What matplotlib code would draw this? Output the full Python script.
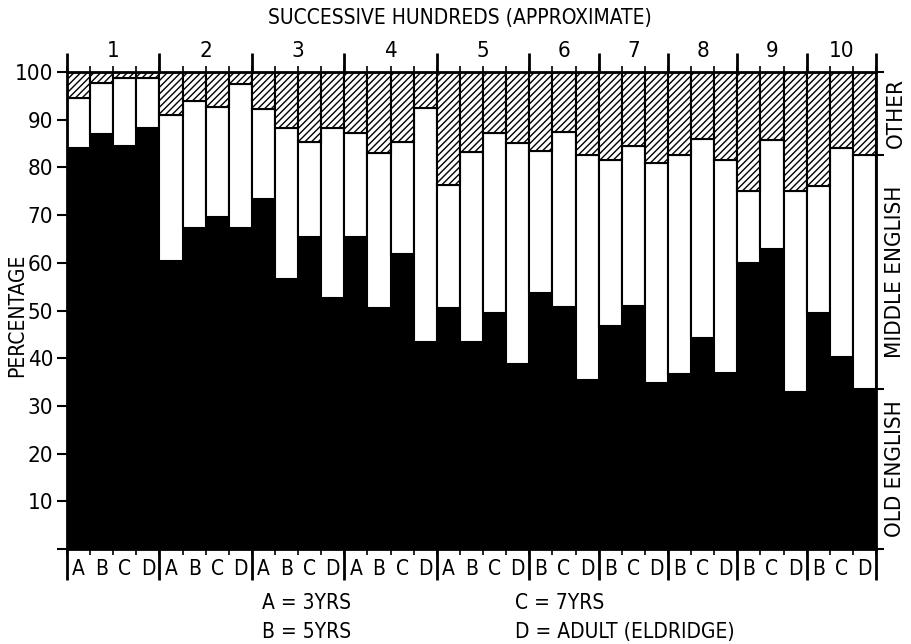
# -*- encoding: utf-8 -*-

import numpy as np
import matplotlib
matplotlib.use('Agg')
import matplotlib.pyplot as plt
import matplotlib.transforms as mtransforms

FONT_SIZE = 15
LINE_WIDTH = 1.5
plt.rcParams['font.family'] = ['DejaVu Sans']
plt.rcParams['font.stretch'] = 'condensed'
plt.rcParams['hatch.linewidth'] = 1.0

groups = ['1', '2', '3', '4', '5', '6', '7', '8', '9', '10']
group_sizes = [4, 4, 4, 4, 4, 3, 3, 3, 3, 3]
bar_labels = ['A', 'B', 'C', 'D', 'A', 'B', 'C', 'D', 'A', 'B', 'C', 'D',
              'A', 'B', 'C', 'D', 'A', 'B', 'C', 'D',
              'B', 'C', 'D', 'B', 'C', 'D', 'B', 'C', 'D', 'B', 'C', 'D', 'B', 'C', 'D']
old_english = [84.0, 87.1, 84.5, 88.3, 60.3, 67.3, 69.5, 67.4, 73.3, 56.5, 65.5, 52.7,
               65.4, 50.5, 61.8, 43.5, 50.6, 43.5, 49.5, 38.8,
               53.6, 50.8, 35.4, 46.7, 50.9, 34.7, 36.7, 44.2, 37.0, 60.0, 62.8, 33.0,
               49.4, 40.2, 33.5]
middle_english = [10.6, 10.5, 14.3, 10.5, 30.7, 26.6, 23.2, 30.1, 18.9, 31.7, 19.9, 35.6,
                  21.9, 32.6, 23.6, 48.9, 25.7, 39.8, 37.8, 46.4,
                  29.8, 36.7, 47.2, 34.9, 33.6, 46.2, 45.9, 41.7, 44.6, 15.1, 22.9, 42.1,
                  26.6, 43.8, 49.2]
y_ticks = [10, 20, 30, 40, 50, 60, 70, 80, 90, 100]
legend_left = ['A = 3YRS', 'B = 5YRS']
legend_right = ['C = 7YRS', 'D = ADULT (ELDRIDGE)']
side_labels = ['OTHER', 'MIDDLE ENGLISH', 'OLD ENGLISH']


def plot_vocabulary():
    old = np.array(old_english)
    mid = np.array(middle_english)
    other = 100 - old - mid
    n = len(old)
    x = np.arange(n) + 0.5

    fig = plt.figure(figsize=(9.12, 6.44), dpi=100)
    ax = fig.add_axes([0.0735, 0.1475, 0.887, 0.7407])
    ax.bar(x, old, width=1, color='black', edgecolor='black', linewidth=LINE_WIDTH)
    ax.bar(x, mid, bottom=old, width=1, color='white', edgecolor='black', linewidth=LINE_WIDTH)
    ax.bar(x, other, bottom=old + mid, width=1, color='white', edgecolor='black',
           hatch='/////', linewidth=LINE_WIDTH)
    ax.set_xlim(0, n)
    ax.set_ylim(0, 100)

    for s in ax.spines.values():
        s.set_linewidth(2)

    ax.set_yticks([0] + y_ticks)
    ax.set_yticklabels([''] + [str(v) for v in y_ticks], fontsize=FONT_SIZE + 1)
    ax.tick_params(axis='y', length=7, width=1.5, direction='out', pad=3)
    fig.text(0.019, 0.51, 'PERCENTAGE', rotation=90, ha='center', va='center', fontsize=FONT_SIZE)

    ax.set_xticks(x)
    ax.set_xticklabels(bar_labels, fontsize=FONT_SIZE)
    ax.tick_params(axis='x', which='major', length=0, pad=7)
    ax.set_xticks(np.arange(n + 1), minor=True)
    ax.tick_params(axis='x', which='minor', length=4, width=1.2, top=True, direction='out')

    # group separators above and below the plot
    trans = ax.get_xaxis_transform()
    edges = np.concatenate([[0], np.cumsum(group_sizes)])
    ax.vlines(edges, -0.065, 0, transform=trans, color='black', lw=2, clip_on=False)
    ax.vlines(edges, 1.0, 1.04, transform=trans, color='black', lw=2, clip_on=False)
    for g, lab in enumerate(groups):
        c = (edges[g] + edges[g + 1]) / 2
        ax.text(c, 1.045, lab, transform=trans, ha='center', va='center', fontsize=FONT_SIZE + 1)

    # right side regions
    ax2 = ax.twinx()
    ax2.set_ylim(0, 100)
    top_old = old[-1]
    top_mid = old[-1] + mid[-1]
    ax2.set_yticks([0, top_old, top_mid, 100])
    ax2.set_yticklabels([])
    ax2.tick_params(axis='y', length=6, width=1.5)
    side_trans = mtransforms.blended_transform_factory(ax.transAxes, ax.transData)
    centers = [(top_mid + 100) / 2, (top_old + top_mid) / 2, top_old / 2]
    for lab, c in zip(side_labels, centers):
        ax2.text(1.024, c, lab, transform=side_trans, rotation=90, ha='center', va='center',
                 fontsize=FONT_SIZE + 1)

    fig.text(0.504, 0.972, 'SUCCESSIVE HUNDREDS (APPROXIMATE)', ha='center', va='center',
             fontsize=FONT_SIZE)
    for i, t in enumerate(legend_left):
        fig.text(0.287, 0.064 - i * 0.045, t, ha='left', va='center', fontsize=FONT_SIZE)
    for i, t in enumerate(legend_right):
        fig.text(0.565, 0.064 - i * 0.045, t, ha='left', va='center', fontsize=FONT_SIZE)

    fig.savefig('out.png', dpi=100)


if __name__ == "__main__":
    plot_vocabulary()
